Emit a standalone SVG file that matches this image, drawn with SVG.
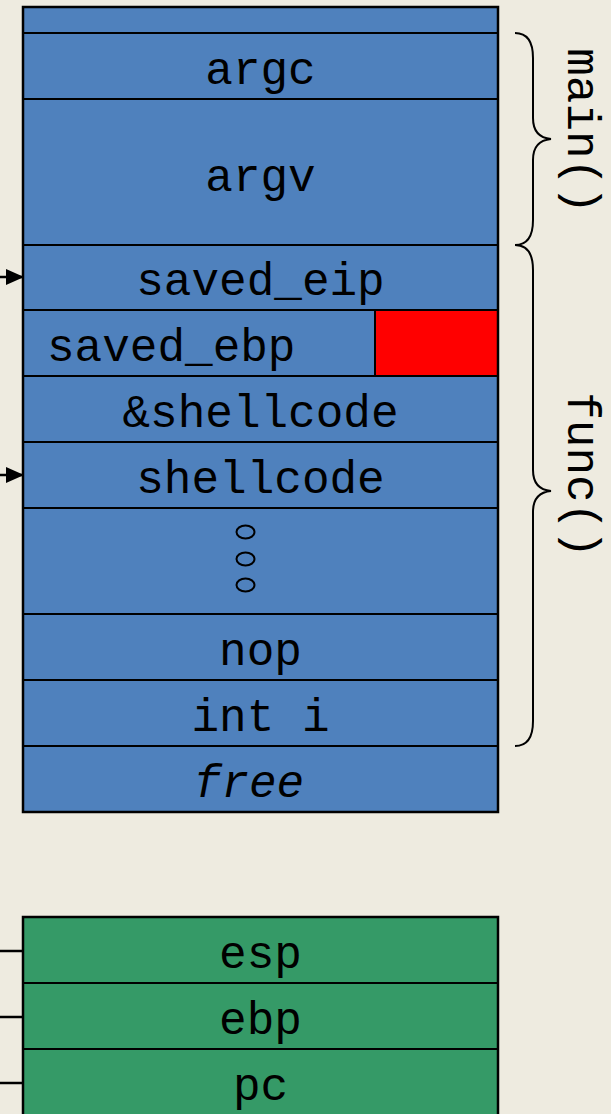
<svg xmlns="http://www.w3.org/2000/svg" width="611" height="1114" viewBox="0 0 611 1114">
<defs>
<style>
.cell{fill:#4F81BD;stroke:#000;stroke-width:2}
.gcell{fill:#359A67;stroke:#000;stroke-width:2}
.t{font-family:"Liberation Mono","Courier New",monospace;font-size:46px;fill:#000;text-anchor:middle}
.brace{fill:none;stroke:#000;stroke-width:2}
.conn{stroke:#000;stroke-width:2.5;fill:none}
</style>
<marker id="ah" markerWidth="18" markerHeight="16" refX="17" refY="8" orient="auto" markerUnits="userSpaceOnUse">
<path d="M0,0 L18,8 L0,16 Z" fill="#000"/>
</marker>
</defs>
<rect width="611" height="1114" fill="#EEEBE0"/>
<g id="stack">
<g id="top"><rect class="cell" x="23" y="7" width="475" height="26"/></g>
<g id="argc"><rect class="cell" x="23" y="33" width="475" height="66"/><text class="t" x="260.5" y="84">argc</text></g>
<g id="argv"><rect class="cell" x="23" y="99" width="475" height="146"/><text class="t" x="260.5" y="191">argv</text></g>
<g id="saved_eip"><rect class="cell" x="23" y="245" width="475" height="65"/><text class="t" x="260.5" y="295">saved_eip</text></g>
<g id="saved_ebp"><rect class="cell" x="23" y="310" width="475" height="66"/><rect x="375" y="310" width="123" height="66" fill="#FF0000" stroke="#000" stroke-width="2"/><text class="t" x="47" y="361" style="text-anchor:start">saved_ebp</text></g>
<g id="addr_shellcode"><rect class="cell" x="23" y="376" width="475" height="66"/><text class="t" x="260.5" y="427">&amp;shellcode</text></g>
<g id="shellcode"><rect class="cell" x="23" y="442" width="475" height="66"/><text class="t" x="260.5" y="493">shellcode</text></g>
<g id="dots"><rect class="cell" x="23" y="508" width="475" height="106"/>
<ellipse cx="245.5" cy="532" rx="9" ry="6.5" fill="none" stroke="#000" stroke-width="2"/>
<ellipse cx="245.5" cy="559" rx="9" ry="6.5" fill="none" stroke="#000" stroke-width="2"/>
<ellipse cx="245.5" cy="585" rx="9" ry="6.5" fill="none" stroke="#000" stroke-width="2"/></g>
<g id="nop"><rect class="cell" x="23" y="614" width="475" height="66"/><text class="t" x="260.5" y="665">nop</text></g>
<g id="int_i"><rect class="cell" x="23" y="680" width="475" height="66"/><text class="t" x="260.5" y="731">int i</text></g>
<g id="free"><rect class="cell" x="23" y="746" width="475" height="66"/><text class="t" x="249" y="797" font-style="italic">free</text></g>
<rect x="23" y="7" width="475" height="805" fill="none" stroke="#000" stroke-width="2.5"/>
</g>
<g id="regs">
<g id="esp"><rect class="gcell" x="23" y="917" width="475" height="66"/><text class="t" x="260.5" y="968">esp</text></g>
<g id="ebp"><rect class="gcell" x="23" y="983" width="475" height="66"/><text class="t" x="260.5" y="1034">ebp</text></g>
<g id="pc"><rect class="gcell" x="23" y="1049" width="475" height="80"/><text class="t" x="260.5" y="1100">pc</text></g>
<rect x="23" y="917" width="475" height="212" fill="none" stroke="#000" stroke-width="2.5"/>
</g>
<g id="braces">
<g id="main_brace"><path class="brace" d="M515,33 C528,33 533,42 533,58 L533,118 C533,132 540,138 551,139 C540,140 533,146 533,160 L533,220 C533,236 528,245 515,245"/>
<text class="t" transform="translate(568,131) rotate(90)">main()</text></g>
<g id="func_brace"><path class="brace" d="M515,245 C528,245 533,254 533,270 L533,470 C533,484 540,490 551,491 C540,492 533,498 533,512 L533,721 C533,737 528,746 515,746"/>
<text class="t" transform="translate(568,475) rotate(90)">func()</text></g>
</g>
<g id="connectors">
<line class="conn" x1="0" y1="277" x2="23" y2="277" marker-end="url(#ah)"/>
<line class="conn" x1="0" y1="475" x2="23" y2="475" marker-end="url(#ah)"/>
<line class="conn" x1="0" y1="951" x2="23" y2="951"/>
<line class="conn" x1="0" y1="1017" x2="23" y2="1017"/>
<line class="conn" x1="0" y1="1083" x2="23" y2="1083"/>
</g>
</svg>
